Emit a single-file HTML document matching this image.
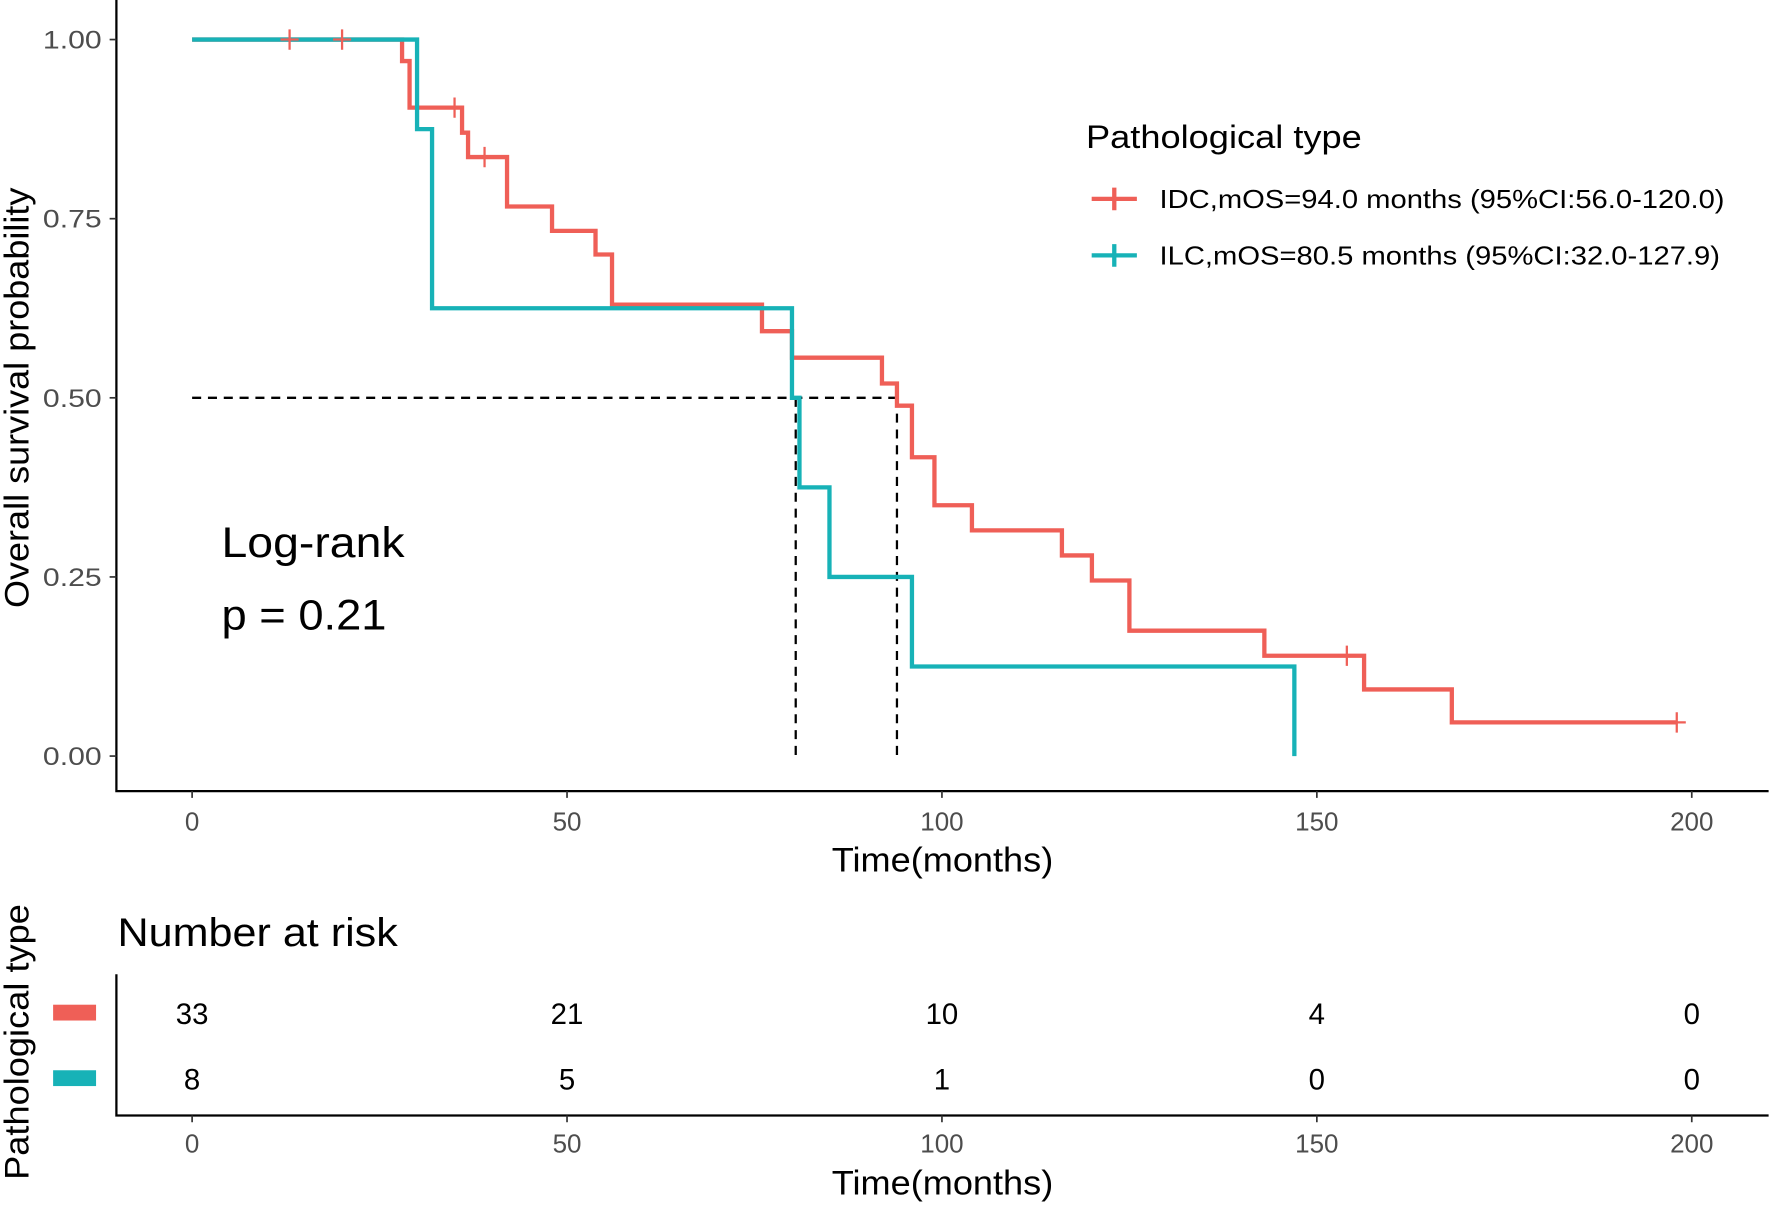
<!DOCTYPE html>
<html><head><meta charset="utf-8"><style>
html,body{margin:0;padding:0;background:#fff;}
svg{display:block;font-family:"Liberation Sans",Arial,sans-serif;}
</style></head><body>
<svg id="chart" width="1772" height="1207" viewBox="0 0 1568 1068" preserveAspectRatio="none" xmlns="http://www.w3.org/2000/svg">
<g id="g"></g>
</svg>
<script>
const xTicks=[0,50,100,150,200];
const yTicks=[0,0.25,0.5,0.75,1];
const yTickLabels=["0.00","0.25","0.50","0.75","1.00"];
const idcTimes=[0,28,29,36,36.8,42,48,53.8,56,76,80,92,94,96,99,104,116,120,125,143,156.3,168,198];
const idcSurv=[1,0.97,0.905,0.87,0.836,0.767,0.733,0.70,0.63,0.593,0.556,0.52,0.489,0.417,0.35,0.315,0.28,0.245,0.175,0.14,0.093,0.047,0.047];
const idcCensor=[13,20,35,39,154,198];
const ilcTimes=[0,30,32,80,81,85,96,147];
const ilcSurv=[1,0.875,0.625,0.5,0.375,0.25,0.125,0];
const ilcCensor=[];
const medians=[80.5,94];
const riskIDC=[33,21,10,4,0];
const riskILC=[8,5,1,0,0];
const RED="#ef5f57",TEAL="#17b2b7";
const X=t=>170+t*(1497-170)/200;
const Y=s=>669-s*634;
const g=document.getElementById('g');
const NS="http://www.w3.org/2000/svg";
function el(tag,attrs,text){const e=document.createElementNS(NS,tag);for(const k in attrs)e.setAttribute(k,attrs[k]);if(text!==undefined)e.textContent=text;g.appendChild(e);return e;}
let a=el('path',{d:'M103,0V700H1565',stroke:'#000','stroke-width':2,fill:'none'});


yTicks.forEach((v,i)=>{
 let t=el('line',{x1:97,x2:103,y1:Y(v),y2:Y(v),stroke:'#333','stroke-width':1.5});
 
 
 let l=el('text',{x:90,y:Y(v)+8,'text-anchor':'end','font-size':22,fill:'#4d4d4d',textLength:52,lengthAdjust:'spacingAndGlyphs'},yTickLabels[i]);
 
 
});
xTicks.forEach(v=>{
 let t=el('line',{x1:X(v),x2:X(v),y1:700,y2:706,stroke:'#333','stroke-width':1.5});
 
 
 let l=el('text',{x:X(v),y:735,'text-anchor':'middle','font-size':23,fill:'#4d4d4d'},v);
 
 
});
let xt=el('text',{x:834,y:771,'text-anchor':'middle','font-size':30,textLength:196,lengthAdjust:'spacingAndGlyphs'},'Time(months)');


let yt=el('text',{x:0,y:0,'text-anchor':'middle','font-size':30,textLength:372,lengthAdjust:'spacingAndGlyphs',transform:'translate(25,352) rotate(-90)'},'Overall survival probability');


let dh=el('path',{d:`M${X(0)},${Y(0.5)}H${X(Math.max(...medians))}`,stroke:'#000','stroke-width':2,'stroke-dasharray':'8,6',fill:'none'});


medians.forEach(m=>{
 let d=el('path',{d:`M${X(m)},${Y(0.5)}V${Y(0)}`,stroke:'#000','stroke-width':2,'stroke-dasharray':'8,6',fill:'none'});
 
 
});
function stepPath(ts,ss){let d=`M${X(ts[0])},${Y(ss[0])}`;for(let i=1;i<ts.length;i++){d+=`H${X(ts[i])}V${Y(ss[i])}`;}return d;}
function survAt(ts,ss,t){let s=ss[0];for(let i=0;i<ts.length;i++)if(ts[i]<=t)s=ss[i];return s;}
let pi=el('path',{d:stepPath(idcTimes,idcSurv),stroke:RED,'stroke-width':3.8,fill:'none'});


let pl=el('path',{d:stepPath(ilcTimes,ilcSurv),stroke:TEAL,'stroke-width':3.8,fill:'none'});


function censor(ts,ss,arr,col,name){arr.forEach(t=>{const x=X(t),y=Y(survAt(ts,ss,t));
 let c=el('path',{d:`M${x-8},${y}H${x+8}M${x},${y-9}V${y+9}`,stroke:col,'stroke-width':2});
 
 });}
censor(idcTimes,idcSurv,idcCensor,RED,'idc-censor-mark');
censor(ilcTimes,ilcSurv,ilcCensor,TEAL,'ilc-censor-mark');
let lr=el('text',{x:196,y:493,'font-size':38,textLength:162,lengthAdjust:'spacingAndGlyphs'},'Log-rank');


let pv=el('text',{x:196,y:557,'font-size':38,textLength:146,lengthAdjust:'spacingAndGlyphs'},'p = 0.21');


let lt=el('text',{x:961,y:131,'font-size':29,textLength:244,lengthAdjust:'spacingAndGlyphs'},'Pathological type');


[[RED,'IDC,mOS=94.0 months (95%CI:56.0-120.0)',176,500],[TEAL,'ILC,mOS=80.5 months (95%CI:32.0-127.9)',226,496]].forEach(([c,t,y,w],i)=>{
 let m=el('path',{d:`M966,${y}H1006M986,${y-10}V${y+10}`,stroke:c,'stroke-width':3.8});
 
 
 let l=el('text',{x:1026,y:y+8,'font-size':23,textLength:w,lengthAdjust:'spacingAndGlyphs'},t);
 
 
});
let nr=el('text',{x:104,y:837,'font-size':35,textLength:248,lengthAdjust:'spacingAndGlyphs'},'Number at risk');


let ra=el('path',{d:'M103,862V987H1565',stroke:'#000','stroke-width':2,fill:'none'});


[[RED,riskIDC,897],[TEAL,riskILC,955]].forEach(([c,arr,y],i)=>{
 let s=el('rect',{x:47,y:y-8,width:38,height:14,fill:c});
 
 
 arr.forEach((v,j)=>{
  let t=el('text',{x:X(xTicks[j]),y:y+9,'text-anchor':'middle','font-size':26},v);
  
  
 });
});
xTicks.forEach(v=>{
 let t=el('line',{x1:X(v),x2:X(v),y1:987,y2:993,stroke:'#333','stroke-width':1.5});
 
 
 let l=el('text',{x:X(v),y:1020,'text-anchor':'middle','font-size':23,fill:'#4d4d4d'},v);
 
 
});
let rx=el('text',{x:834,y:1057,'text-anchor':'middle','font-size':30,textLength:196,lengthAdjust:'spacingAndGlyphs'},'Time(months)');


let ry=el('text',{x:0,y:0,'text-anchor':'middle','font-size':30,textLength:244,lengthAdjust:'spacingAndGlyphs',transform:'translate(25,922) rotate(-90)'},'Pathological type');


</script>
</body></html>
